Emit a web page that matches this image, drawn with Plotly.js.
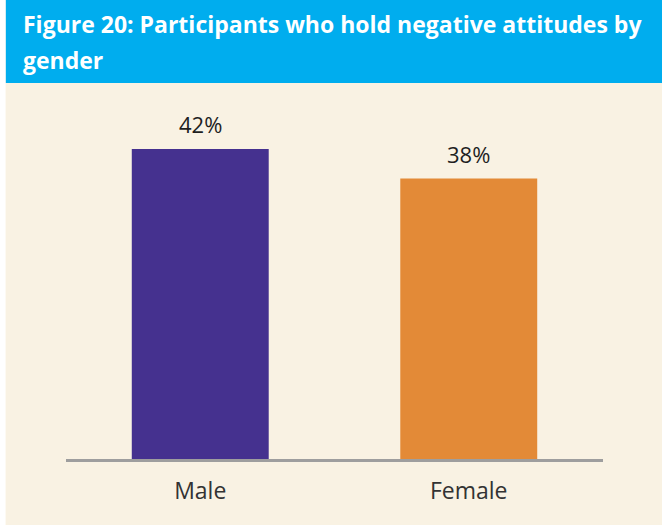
<!DOCTYPE html>
<html>
<head>
<meta charset="utf-8">
<script src="https://cdn.plot.ly/plotly-3.0.1.min.js"></script>
<style>
    html, body { margin: 0; padding: 0; background: #ffffff; }
    #chart-gender { width: 662px; height: 525px; }
</style>
</head>
<body>
<div id="chart-gender"></div>
<script>
// Chart data
const genders = ['Male', 'Female'];
const negativePercent = [42, 38];
const barColors = ['#45318f', '#e38a37'];
const titleLines = ['Figure 20: Participants who hold negative attitudes by', 'gender'];

function createGenderChart() {
    const trace = {
        x: genders,
        y: negativePercent,
        type: 'bar',
        marker: { color: barColors },
        hoverinfo: 'skip'
    };

    // Value labels above the bars
    const valueLabels = genders.map((g, i) => ({
        x: g,
        y: negativePercent[i],
        xref: 'x',
        yref: 'y',
        text: negativePercent[i] + '%',
        showarrow: false,
        yanchor: 'bottom',
        yshift: 8,
        font: { family: 'Open Sans', size: 22, color: '#1f1f1f' }
    }));

    // Title sits in the blue header band, one annotation per line
    const titleNotes = [
        { text: titleLines[0], y: 1.2275 },
        { text: titleLines[1], y: 1.1300 }
    ].map(t => ({
        x: -0.0846,
        y: t.y,
        xref: 'paper',
        yref: 'paper',
        xanchor: 'left',
        yanchor: 'top',
        text: '<b>' + t.text + '</b>',
        showarrow: false,
        font: { family: 'Open Sans', size: 23, color: '#ffffff' }
    }));

    const layout = {
        width: 662,
        height: 525,
        paper_bgcolor: '#f9f2e3',
        plot_bgcolor: 'rgba(0,0,0,0)',
        margin: { l: 65.5, r: 58.5, t: 90, b: 66 },
        showlegend: false,
        bargap: 0.49,
        xaxis: {
            showline: true,
            linecolor: '#9e9e9e',
            linewidth: 2.5,
            ticks: 'outside',
            ticklen: 10,
            tickcolor: 'rgba(0,0,0,0)',
            tickfont: { family: 'Open Sans', size: 23, color: '#333333' },
            showgrid: false,
            zeroline: false,
            fixedrange: true
        },
        yaxis: {
            range: [0, 50],
            visible: false,
            showgrid: false,
            zeroline: false,
            fixedrange: true
        },
        shapes: [
            // blue header band
            {
                type: 'rect', xref: 'paper', yref: 'paper',
                x0: -0.1125, x1: 1.2, y0: 1.019, y1: 1.3,
                fillcolor: '#00adee', line: { width: 0 }, layer: 'below'
            },
            // thin white strip on the left edge
            {
                type: 'rect', xref: 'paper', yref: 'paper',
                x0: -0.2, x1: -0.1125, y0: -0.3, y1: 1.3,
                fillcolor: '#ffffff', line: { width: 0 }, layer: 'below'
            }
        ],
        annotations: [...titleNotes, ...valueLabels]
    };

    const config = { displayModeBar: false, staticPlot: true };

    Plotly.newPlot('chart-gender', [trace], layout, config);
}

document.addEventListener('DOMContentLoaded', function() {
    createGenderChart();
});
</script>
</body>
</html>
